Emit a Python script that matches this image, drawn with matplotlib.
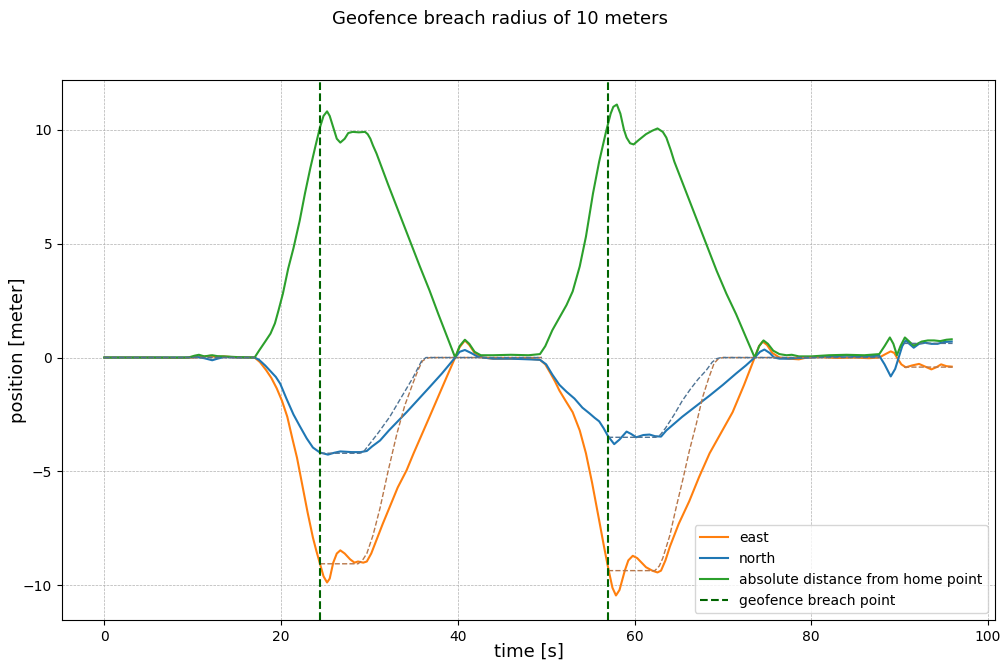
import numpy as np
import matplotlib
matplotlib.use("Agg")
import matplotlib.pyplot as plt

nan = np.nan

# measured east position [m]
east_t = [0, 5, 8, 10, 11, 12, 12.6, 13.5, 15, 17, 17.6, 18.3, 18.9, 19.5, 20.1, 20.7, 21.3, 21.8,
          22.4, 23.0, 23.6, 24.0, 24.4, 24.8, 25.2, 25.5, 25.9, 26.3, 26.7, 27.2, 27.8, 28.3, 28.7,
          29.3, 29.7, 30.2, 30.8, 31.5, 32.3, 33.2, 34.2, 35.0, 35.9, 36.8, 37.8, 38.8, 39.7, 40.2,
          40.8, 41.3, 41.9, 42.8, 44, 46, 48, 49.3, 49.9, 50.5, 51.0, 51.5, 52.2, 53.0, 53.8, 54.5,
          55.2, 56.0, 56.5, 57.0, 57.5, 57.9, 58.3, 58.9, 59.3, 59.8, 60.3, 61.3, 62.0, 62.6, 63.0,
          63.5, 64.0, 65.0, 66.2, 67.3, 68.5, 69.8, 71.1, 72.4, 73.6, 74.1, 74.5, 75.0, 75.6, 76.4,
          77.5, 78.6, 79.5, 81, 83, 85, 86.5, 87.7, 88.4, 89.0, 89.4, 89.7, 90.2, 90.7, 91.4, 92.2,
          92.9, 93.6, 94.2, 94.7, 95.3, 95.9]
east_v = [0, 0, -0.02, 0, 0.03, 0.08, 0.02, 0.05, 0, 0, -0.2, -0.55, -0.9, -1.35, -1.9, -2.6, -3.6,
          -4.4, -5.6, -6.8, -7.9, -8.5, -9.05, -9.6, -9.87, -9.7, -9.0, -8.6, -8.46, -8.6, -8.85,
          -9.0, -8.95, -9.0, -8.95, -8.6, -8.0, -7.3, -6.55, -5.7, -4.95, -4.2, -3.4, -2.6, -1.7,
          -0.8, 0, 0.45, 0.75, 0.55, 0.2, 0.0, -0.05, -0.05, -0.05, -0.1, -0.3, -0.7, -1.05, -1.45,
          -1.9, -2.4, -3.2, -4.2, -5.5, -7.15, -8.2, -9.2, -10.1, -10.44, -10.2, -9.35, -8.9, -8.7,
          -8.8, -9.2, -9.35, -9.43, -9.35, -8.9, -8.3, -7.3, -6.3, -5.25, -4.2, -3.3, -2.4, -1.2, 0,
          0.5, 0.7, 0.55, 0.2, 0.0, -0.05, -0.08, 0, 0.02, -0.02, 0, -0.03, 0, 0.15, 0.27, 0.2, 0,
          -0.3, -0.43, -0.35, -0.28, -0.4, -0.52, -0.42, -0.3, -0.38, -0.4]

# measured north position [m]
north_t = [0, 9, 10.5, 11.3, 12.2, 12.8, 13.5, 15, 17, 17.5, 18.2, 18.8, 19.4, 19.9, 20.6, 21.4, 22.1,
           22.9, 23.6, 24.4, 25.3, 26.0, 26.7, 28, 29, 29.7, 30.3, 31.2, 32.2, 33.2, 34.2, 35.5, 36.8,
           38.2, 39.7, 40.2, 40.8, 41.5, 42.2, 42.8, 44, 46, 48, 49.3, 50.0, 50.7, 51.5, 52.3, 53.2,
           54.1, 54.9, 55.5, 56.0, 56.5, 57.0, 57.7, 58.3, 59.1, 59.6, 60.2, 61.0, 61.7, 62.3, 63.0,
           63.6, 64.5, 65.4, 66.9, 68.5, 70.0, 71.5, 72.6, 73.6, 74.2, 74.7, 75.3, 75.8, 76.4, 77.5,
           78.6, 80, 82, 84, 86, 87.7, 88.3, 89.0, 89.5, 89.9, 90.3, 90.7, 91.1, 91.6, 92.2, 92.9,
           93.6, 94.3, 95.0, 95.9]
north_v = [0, 0, 0.02, -0.03, -0.12, -0.05, 0.02, 0, 0, -0.1, -0.35, -0.6, -0.85, -1.15, -1.8, -2.5,
           -3.0, -3.55, -3.95, -4.17, -4.26, -4.18, -4.12, -4.15, -4.15, -4.1, -3.9, -3.64, -3.2,
           -2.8, -2.4, -1.85, -1.3, -0.7, 0, 0.25, 0.33, 0.2, 0.05, 0, -0.05, -0.05, -0.08, -0.1,
           -0.3, -0.75, -1.2, -1.5, -1.8, -2.2, -2.45, -2.65, -2.8, -3.1, -3.45, -3.8, -3.6, -3.25,
           -3.35, -3.5, -3.4, -3.38, -3.45, -3.47, -3.2, -2.9, -2.6, -2.15, -1.67, -1.2, -0.7, -0.35,
           0, 0.25, 0.35, 0.2, 0.0, -0.05, -0.05, -0.02, 0, 0.05, 0.08, 0.05, 0.08, -0.3, -0.83,
           -0.5, 0, 0.5, 0.75, 0.6, 0.43, 0.6, 0.65, 0.6, 0.6, 0.68, 0.7]

# absolute distance from home [m]
dist_t = [0, 9.5, 10.2, 10.7, 11.3, 12.2, 12.8, 13.5, 15, 17, 17.5, 18.2, 18.8, 19.3, 19.7, 20.2, 20.8,
          21.4, 22.1, 22.7, 23.3, 23.9, 24.4, 24.8, 25.2, 25.5, 25.9, 26.3, 26.7, 27.2, 27.6, 28.1,
          28.8, 29.5, 29.8, 30.1, 30.4, 30.8, 32.1, 33.4, 34.5, 35.7, 36.8, 37.8, 38.8, 39.7, 40.2,
          40.8, 41.3, 41.9, 42.6, 44, 46, 48, 49.3, 49.9, 50.7, 51.5, 52.3, 53.0, 53.8, 54.5, 55.3,
          56.0, 56.8, 57.3, 57.6, 58.0, 58.4, 58.8, 59.1, 59.5, 59.9, 60.5, 61.3, 62.0, 62.6, 63.2,
          63.6, 64.1, 64.5, 65.5, 66.8, 68.1, 69.3, 70.4, 71.5, 72.6, 73.6, 74.1, 74.6, 75.1, 75.7,
          76.4, 77.2, 77.8, 78.6, 80, 82, 84, 86, 87.7, 88.3, 88.9, 89.3, 89.7, 90.1, 90.6, 91.1,
          91.6, 92.5, 93.2, 93.9, 94.6, 95.3, 95.9]
dist_v = [0, 0, 0.08, 0.12, 0.05, 0.1, 0.06, 0.05, 0.02, 0, 0.3, 0.7, 1.05, 1.5, 2.06, 2.8, 3.9, 4.8,
          6.0, 7.2, 8.3, 9.3, 10.1, 10.6, 10.8, 10.6, 10.1, 9.6, 9.43, 9.6, 9.85, 9.9, 9.88, 9.9,
          9.8, 9.6, 9.3, 8.95, 7.6, 6.3, 5.2, 4.0, 2.94, 1.9, 0.9, 0.0, 0.5, 0.78, 0.6, 0.25, 0.1,
          0.1, 0.12, 0.1, 0.15, 0.5, 1.2, 1.75, 2.3, 2.9, 4.0, 5.3, 7.2, 8.6, 9.95, 10.7, 11.0, 11.1,
          10.7, 10.0, 9.65, 9.4, 9.35, 9.55, 9.8, 9.95, 10.05, 9.9, 9.65, 9.1, 8.6, 7.6, 6.3, 5.0,
          3.8, 2.8, 1.9, 0.9, 0, 0.5, 0.75, 0.6, 0.3, 0.15, 0.1, 0.12, 0.05, 0.05, 0.1, 0.12, 0.1,
          0.15, 0.5, 0.88, 0.6, 0.1, 0.5, 0.88, 0.7, 0.52, 0.7, 0.75, 0.75, 0.72, 0.78, 0.8]

# position setpoints (gaps where they follow the measured track)
east_sp_t = [0, 17, nan, 24.4, 28.7, 29.2, 29.7, 30.4, 31.2, 32.1, 33.1, 34.0, 34.9, 35.5, 36.0, 36.5,
             36.9, 49.5, nan, 57.0, 62.3, 62.8, 63.2, 64.0, 64.7, 65.5, 66.2, 67.0, 67.7, 68.4, 69.0,
             69.5, 70.0, 87.7, nan, 90.5, 96]
east_sp_v = [0, 0, nan, -9.05, -9.05, -8.9, -8.6, -7.8, -6.6, -5.0, -3.35, -2.1, -1.15, -0.55, -0.15,
             -0.03, 0, 0, nan, -9.35, -9.35, -9.15, -8.8, -7.8, -6.6, -5.3, -4.1, -2.9, -1.75, -0.9,
             -0.26, -0.05, 0, 0, nan, -0.42, -0.42]
north_sp_t = [0, 17, nan, 24.4, 28.9, 29.3, 29.7, 31.0, 32.3, 33.6, 34.9, 35.5, 35.9, 36.4, 49.5, nan,
              57.0, 62.4, 62.9, 63.5, 64.5, 65.4, 66.3, 67.2, 68.1, 68.8, 69.3, 69.8, 87.7, nan,
              90.5, 96]
north_sp_v = [0, 0, nan, -4.2, -4.2, -4.15, -3.95, -3.3, -2.6, -1.75, -0.9, -0.45, -0.15, 0, 0, nan,
              -3.5, -3.5, -3.4, -3.1, -2.5, -1.9, -1.4, -0.95, -0.57, -0.2, -0.05, 0, 0, nan,
              0.62, 0.62]

breach_times = [24.4, 57.05]

fig, ax = plt.subplots(figsize=(10, 6.61), dpi=100)
fig.subplots_adjust(left=0.062, right=0.995, top=0.879, bottom=0.062)
fig.suptitle("Geofence breach radius of 10 meters", fontsize=13, y=0.985)

ax.plot(east_t, east_v, color="C1", lw=1.5, label="east")
ax.plot(north_t, north_v, color="C0", lw=1.5, label="north")
ax.plot(dist_t, dist_v, color="C2", lw=1.5, label="absolute distance from home point")
ax.plot(east_sp_t, east_sp_v, color="#b8774a", lw=1.0, ls="--")
ax.plot(north_sp_t, north_sp_v, color="#4f7394", lw=1.0, ls="--")

for i, bt in enumerate(breach_times):
    ax.axvline(bt, color="darkgreen", ls="--", lw=1.5,
               label="geofence breach point" if i == 0 else None)

ax.set_xticks([0, 20, 40, 60, 80, 100])
ax.set_yticks([-10, -5, 0, 5, 10])
ax.grid(True, ls="--", lw=0.5, color="#b0b0b0")
ax.set_xlabel("time [s]", fontsize=13)
ax.set_ylabel("position [meter]", fontsize=13)
# labels sit close to the tick labels
ax.xaxis.set_label_coords(0.5, -0.042)
ax.yaxis.set_label_coords(-0.037, 0.5)
ax.legend(loc="lower right")

fig.savefig("out.png", dpi=100)
